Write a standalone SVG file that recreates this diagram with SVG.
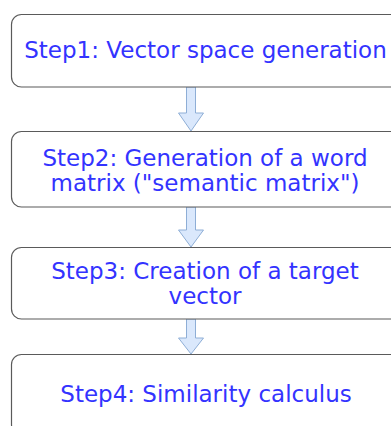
<svg xmlns="http://www.w3.org/2000/svg" width="391" height="426" viewBox="0 0 391 426">
<style>
.box{fill:#ffffff;stroke:#5a5a5a;stroke-width:1.2}
.t{font-family:"DejaVu Sans",Verdana,sans-serif;font-size:23px;fill:#3333ff;text-anchor:middle}
.arr{fill:#dae8fc;stroke:#8eaed6;stroke-width:1}
</style>
<rect width="391" height="426" fill="#ffffff"/>
<g id="connectors">
<path class="arr" d="M186.5 87 L195.5 87 L195.5 113 L203.5 113 L191 131 L178.5 113 L186.5 113 Z"/>
<path class="arr" d="M186.5 207 L195.5 207 L195.5 230 L203.5 230 L191 247 L178.5 230 L186.5 230 Z"/>
<path class="arr" d="M186.5 319 L195.5 319 L195.5 338 L203.5 338 L191 354 L178.5 338 L186.5 338 Z"/>
</g>
<g id="step1">
<rect class="box" x="11.5" y="14.5" width="390" height="72.5" rx="10"/>
<text class="t" x="205.5" y="58">Step1: Vector space generation</text>
</g>
<g id="step2">
<rect class="box" x="11.5" y="131.5" width="390" height="75.5" rx="10"/>
<text class="t" x="205" y="166">Step2: Generation of a word</text>
<text class="t" x="205" y="191">matrix ("semantic matrix")</text>
</g>
<g id="step3">
<rect class="box" x="11.5" y="247.5" width="390" height="71.5" rx="10"/>
<text class="t" x="205" y="279">Step3: Creation of a target</text>
<text class="t" x="205" y="304">vector</text>
</g>
<g id="step4">
<rect class="box" x="11.5" y="354.5" width="390" height="80" rx="10"/>
<text class="t" x="206" y="402">Step4: Similarity calculus</text>
</g>
</svg>
